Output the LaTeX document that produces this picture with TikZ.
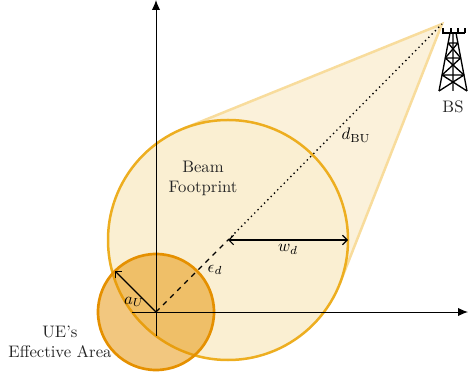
\documentclass[tikz,border=0pt]{standalone}
\usepackage{amsmath,amssymb}
\usepackage{xcolor}
\usetikzlibrary{arrows.meta,calc}
\definecolor{beamline}{HTML}{EDAE20}
\definecolor{beamfill}{HTML}{FAEFD2}
\definecolor{conefill}{HTML}{FBF1DA}
\definecolor{coneline}{HTML}{F8DC9C}
\definecolor{ueline}{HTML}{E59000}
\definecolor{uefill}{HTML}{E59000}
\tikzset{
  axisline/.style={-{Latex[length=6pt,width=5pt]},line width=.6pt},
  towerline/.style={line width=.8pt,line join=round},
  caplabel/.style={align=center,text=black!85}
}
\begin{document}
\begin{tikzpicture}[x=.6pt,y=.6pt,>=Straight Barb]
\useasboundingbox (-156,-63) rectangle (312,312);
\coordinate (O) at (0,0);
\coordinate (C) at (72,72);
\coordinate (T) at (286,288);
\coordinate (A) at (135:58);
\coordinate (R) at (192,72);
\coordinate (t1) at (27,183.2);
\coordinate (t2) at (183.6,28);
% cone towards the station
\fill[conefill] (T)--(t1)--(C)--(t2)--cycle;
\draw[coneline,line width=1.5pt] (t1)--(T)--(t2);
% footprint and user area
\fill[beamfill] (C) circle (120);
\draw[beamline,line width=1.5pt] (C) circle (120);
\fill[uefill,opacity=.5] (O) circle (58);
\draw[ueline,line width=1.6pt] (O) circle (58);
% axes
\draw[axisline] (-24,0)--(312,0);
\draw[axisline] (0,-24)--(0,312);
% lengths
\draw[dashed,line width=.7pt] (O)--(C);
\draw[dotted,line width=.8pt] (C)--(T);
\draw[<->,line width=.7pt] (C)--(R) node[midway,below=-1pt] (wd) {$w_d$};
\draw[->,line width=.7pt] (O)--(A);
\node (ed) at (59,42) {$\epsilon_d$};
\node (dbu) at (200,177) {$d_{\mathrm{BU}}$};
\node (au) at (-22,10) {$a_U$};
\node[caplabel] (beamlabel) at (47,134) {Beam\\Footprint};
\node[caplabel] (uelabel) at (-96,-30) {UE's\\Effective Area};
% tower
\node[caplabel] (bs) at (297,205) {BS};
\draw[towerline] (286,279)--(309,279);
\foreach \px in {287,295,302,309} {\draw[towerline] (\px,279)--(\px,284);}
\draw[towerline] (283,221)--(294,279) (311,221)--(300,279) (297,221)--(297,279);
\foreach \ya/\wa/\yb/\wb in {221/14/237/11,237/11/254/7.7,254/7.7/269/4.9} {
  \draw[towerline] (297-\wa,\ya)--(297+\wb,\yb) (297+\wa,\ya)--(297-\wb,\yb) (297-\wb,\yb)--(297+\wb,\yb);
}
\end{tikzpicture}
\end{document}
